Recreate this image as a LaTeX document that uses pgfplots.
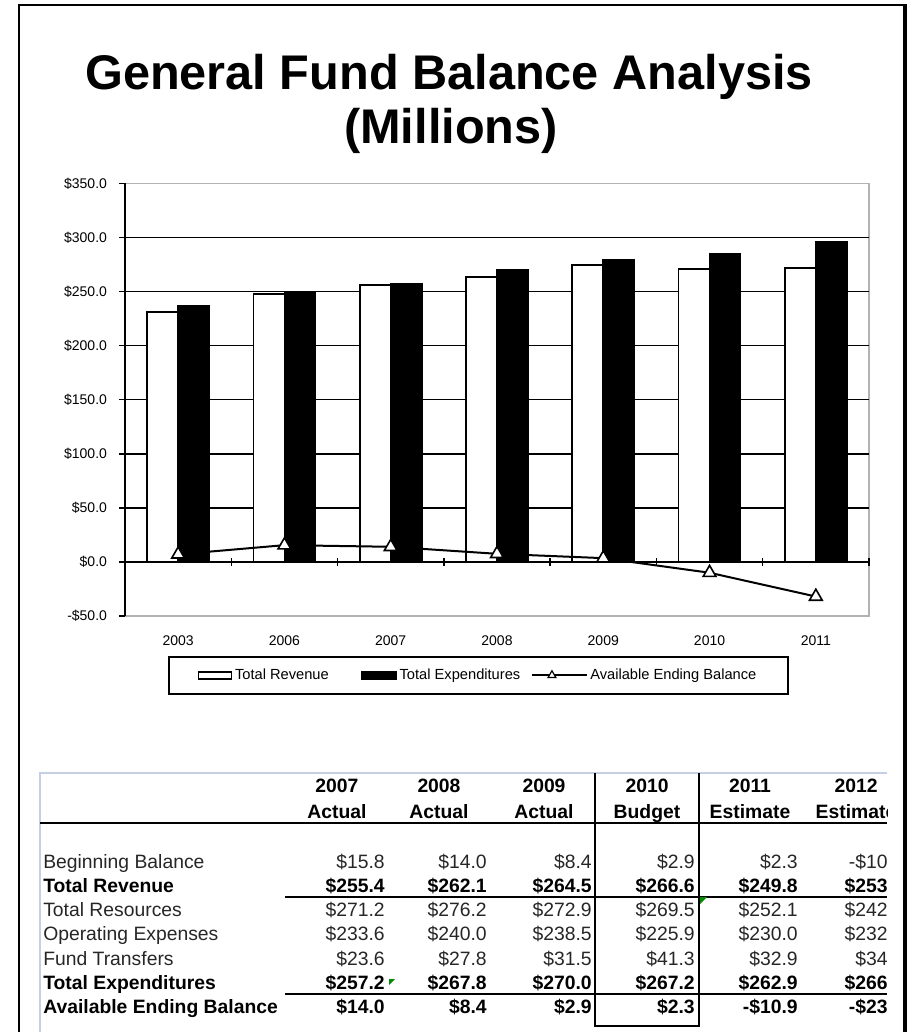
\documentclass[border=0pt]{standalone}
\usepackage{fontspec}
\setmainfont{Liberation Sans}
\usepackage{pgfplots}
\pgfplotsset{compat=1.18}

\definecolor{tabline}{RGB}{198,208,228}
\newcommand\tabreg{\fontsize{14.5pt}{17pt}\selectfont\color{black!85}}
\newcommand\tabbold{\fontsize{14.5pt}{17pt}\selectfont\bfseries\color{black}}

\begin{document}
\begin{tikzpicture}[x=0.75pt,y=-0.75pt]
\useasboundingbox (0,0) rectangle (911,1032);
% outer frame
\draw[black, line width=1.5pt] (18.5,1032) -- (18.5,5) -- (905,5);
\draw[black, line width=3pt] (905,4) -- (905,1032);

% title
\node[anchor=base, inner sep=0, font=\fontsize{36.5pt}{40pt}\selectfont\bfseries] at (449,89) {General Fund Balance Analysis};
\node[anchor=base, inner sep=0, font=\fontsize{36.5pt}{40pt}\selectfont\bfseries] at (451,143) {(Millions)};

\begin{axis}[
    at={(93.75pt,-462pt)}, anchor=south west,
    scale only axis, width=558pt, height=324.5pt,
    xmin=-0.5, xmax=6.5, ymin=-50, ymax=350,
    axis x line*=middle, axis y line*=left,
    axis background/.style={draw=black!30, line width=1.2pt},
    x axis line style={black, line width=1.3pt},
    y axis line style={black, line width=1.6pt},
    ytick={0,50,...,300},
    yticklabels={\$0.0,\$50.0,\$100.0,\$150.0,\$200.0,\$250.0,\$300.0},
    extra y ticks={-50,350},
    extra y tick labels={-\$50.0,\$350.0},
    extra y tick style={grid=none},
    ymajorgrids, major grid style={black, line width=1.2pt},
    tick align=outside,
    major tick length=4.5pt,
    ytick style={black, line width=1.2pt},
    xtick={0,...,6},
    xticklabels={2003,2006,2007,2008,2009,2010,2011},
    major x tick style={draw=none},
    minor xtick={0.5,1.5,...,6.5},
    minor tick length=6pt,
    minor x tick style={black, line width=1.1pt, yshift=3pt},
    tick label style={font=\fontsize{10.5pt}{12pt}\selectfont, text=black},
    yticklabel style={xshift=-5.5pt},
    xticklabel style={yshift=-47pt},
    legend style={at={(0.4751,-0.0924)}, anchor=north,
        draw=black, line width=1.5pt, inner xsep=22pt, inner ysep=7pt,
        font=\fontsize{11pt}{13pt}\selectfont, legend columns=3,
        /tikz/every even column/.append style={column sep=0pt}},
    legend cell align=left,
]
\addplot[ybar, bar width=23.25pt, bar shift=-11.625pt, draw=black, fill=white, line width=1.3pt,
    legend image code/.code={\draw[black, fill=white, line width=1.1pt] (0pt,-2.6pt) rectangle (24.75pt,2.6pt);}]
    coordinates {(0,231.3) (1,247.6) (2,255.7) (3,263.4) (4,274.5) (5,271.1) (6,272.0)};
\addplot[ybar, bar width=23.25pt, bar shift=11.625pt, draw=black, fill=black, line width=1.3pt,
    legend image code/.code={\draw[black, fill=black, line width=1.1pt] (0pt,-2.6pt) rectangle (26pt,2.6pt);}]
    coordinates {(0,236.8) (1,249.5) (2,257.5) (3,270.1) (4,278.8) (5,284.6) (6,295.7)};
\addplot[sharp plot, black, line width=1.5pt, mark=triangle*, mark size=5.5pt,
    mark options={fill=white, draw=black, line width=1.2pt, solid},
    legend image code/.code={
        \draw[black, line width=1.5pt] (0pt,0pt) -- (41pt,0pt);
        \draw[black, fill=white, line width=0.9pt] (15pt,0pt) +(90:3.4pt) -- +(210:3.4pt) -- +(330:3.4pt) -- cycle;}]
    coordinates {(0,7) (1,15.5) (2,14) (3,7.5) (4,3.5) (5,-10) (6,-32)};
\legend{Total Revenue\rule{22pt}{0pt}, Total Expenditures\rule{6pt}{0pt}, Available Ending Balance}
\end{axis}

% table
\draw[tabline, line width=0.8pt] (40,1032) -- (40,773) -- (887,773);
\draw[black, line width=2pt] (40,823) -- (887,823);
\draw[black, line width=0.9pt] (285,897) -- (887,897);
\draw[black, line width=0.9pt] (285,994) -- (887,994);
\draw[black, line width=1.5pt] (595,773) -- (595,1026) -- (699,1026) -- (699,773);
\fill[green!55!black] (389,979) -- (395,979) -- (389,985) -- cycle;
\fill[green!55!black] (700,897) -- (707,897) -- (700,904) -- cycle;

\begin{scope}
\clip (0,760) rectangle (887,1032);
\foreach \cx/\yr/\kd in {337/2007/Actual, 439/2008/Actual, 544/2009/Actual,
    647/2010/Budget, 750/2011/Estimate, 856/2012/Estimate}{
  \node[anchor=base, inner sep=0] at (\cx,792) {\tabbold\yr};
  \node[anchor=base, inner sep=0] at (\cx,818) {\tabbold\kd};
}
\foreach \yy/\ff/\lab/\va/\vb/\vc/\vd/\ve/\vf in {
  868/\tabreg/Beginning Balance/\$15.8/\$14.0/\$8.4/\$2.9/\$2.3/-\$10.9,
  892.3/\tabbold/Total Revenue/\$255.4/\$262.1/\$264.5/\$266.6/\$249.8/\$253.3,
  916.6/\tabreg/Total Resources/\$271.2/\$276.2/\$272.9/\$269.5/\$252.1/\$242.4,
  940.9/\tabreg/Operating Expenses/\$233.6/\$240.0/\$238.5/\$225.9/\$230.0/\$232.0,
  965.2/\tabreg/Fund Transfers/\$23.6/\$27.8/\$31.5/\$41.3/\$32.9/\$34.0,
  989.5/\tabbold/Total Expenditures/\$257.2/\$267.8/\$270.0/\$267.2/\$262.9/\$266.0,
  1013.8/\tabbold/Available Ending Balance/\$14.0/\$8.4/\$2.9/\$2.3/-\$10.9/-\$23.6}{
  \node[anchor=base west, inner sep=0] at (43,\yy) {\ff\lab};
  \node[anchor=base east, inner sep=0] at (385,\yy) {\ff\va};
  \node[anchor=base east, inner sep=0] at (487,\yy) {\ff\vb};
  \node[anchor=base east, inner sep=0] at (592,\yy) {\ff\vc};
  \node[anchor=base east, inner sep=0] at (695,\yy) {\ff\vd};
  \node[anchor=base east, inner sep=0] at (798,\yy) {\ff\ve};
  \node[anchor=base east, inner sep=0] at (904,\yy) {\ff\vf};
}
\end{scope}
\end{tikzpicture}
\end{document}
